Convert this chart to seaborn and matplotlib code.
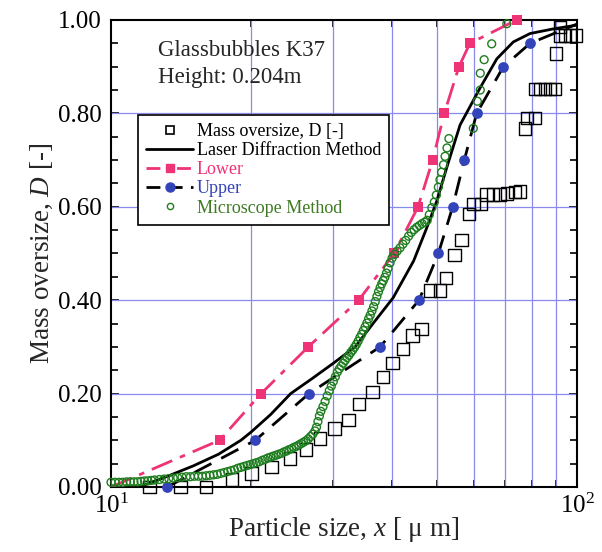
import matplotlib
matplotlib.use("Agg")
import matplotlib.pyplot as plt
from matplotlib.lines import Line2D
from matplotlib.ticker import LogLocator, NullFormatter, MultipleLocator, FormatStrFormatter
import seaborn as sns

# mass oversize (open squares)
mass_x = [12.1, 14.1, 16.0, 18.2, 20.0, 22.1, 24.2, 26.2, 28.1, 30.2, 32.3, 34.1,
          36.4, 38.3, 40.2, 42.3, 44.4, 46.4, 48.4, 50.8, 52.4, 54.6, 56.5, 58.7,
          60.0, 62.2, 64.0, 66.1, 68.4, 70.7, 73.6, 75.4, 77.4, 78.1, 81.3, 81.3,
          83.3, 85.4, 87.5, 89.7, 90.2, 91.9, 94.3, 96.6, 99.5, 92.0]
mass_d = [0.0, 0.0, 0.0, 0.016, 0.029, 0.043, 0.061, 0.080, 0.104, 0.125, 0.144, 0.178,
          0.203, 0.235, 0.265, 0.296, 0.324, 0.338, 0.421, 0.421, 0.448, 0.497, 0.529, 0.585,
          0.606, 0.606, 0.626, 0.626, 0.626, 0.628, 0.632, 0.633, 0.768, 0.790, 0.790, 0.852,
          0.852, 0.852, 0.852, 0.852, 0.928, 0.967, 0.967, 0.967, 0.967, 0.985]

# laser diffraction method (solid line)
laser_x = [11.5, 13.0, 15.0, 17.0, 19.0, 20.0, 22.0, 24.3, 27.0, 30.0, 33.4, 36.5,
           40.3, 44.6, 47.6, 50.0, 52.5, 56.1, 61.9, 67.3, 73.0, 79.3, 89.0, 100.0]
laser_d = [0.0, 0.02, 0.045, 0.07, 0.10, 0.118, 0.155, 0.20, 0.232, 0.265, 0.30, 0.35,
           0.405, 0.484, 0.555, 0.612, 0.683, 0.775, 0.854, 0.917, 0.953, 0.971, 0.981, 0.989]

# lower limit (pink squares, dash-dot); first point has no marker
lower_x = [10.0, 17.1, 21.0, 26.5, 34.0, 40.5, 45.6, 49.0, 51.9, 55.8, 58.9, 74.2]
lower_d = [0.0, 0.10, 0.20, 0.30, 0.40, 0.50, 0.60, 0.70, 0.80, 0.90, 0.95, 1.00]

# upper limit (blue circles, dashed); last point lies past the axis
upper_x = [13.2, 20.4, 26.6, 37.8, 45.8, 50.4, 54.1, 57.3, 60.9, 69.5, 79.3, 105.0]
upper_d = [0.0, 0.10, 0.20, 0.30, 0.40, 0.50, 0.60, 0.70, 0.80, 0.90, 0.95, 1.00]

# microscope method (open green circles)
micro_x = [10.0, 10.2, 10.4, 10.6, 10.8, 11.0, 11.2, 11.4, 11.6, 11.8, 12.0, 12.2,
           12.4, 12.7, 13.0, 13.3, 13.6, 13.9, 14.2, 14.5, 14.8, 15.1, 15.4, 15.7,
           16.0, 16.3, 16.6, 16.9, 17.2, 17.5, 17.8, 18.1, 18.4, 18.7, 19.0, 19.3,
           19.6, 19.9, 20.2, 20.5, 20.8, 21.1, 21.4, 21.7, 22.0, 22.3, 22.6, 22.9,
           23.2, 23.5, 23.8, 24.1, 24.4, 24.7, 25.0, 25.3, 25.6, 25.9, 26.2, 26.5,
           26.8, 27.1, 27.4, 27.6, 27.8, 28.0, 28.2, 28.5, 28.8, 29.1, 29.4, 29.7,
           30.0, 30.3, 30.6, 30.9, 31.2, 31.5, 31.8, 32.1, 32.4, 32.7, 33.0, 33.3,
           33.6, 33.9, 34.2, 34.5, 34.8, 35.1, 35.4, 35.7, 36.0, 36.3, 36.6, 36.9,
           37.2, 37.5, 37.8, 38.1, 38.4, 38.7, 39.0, 39.3, 39.7, 40.1, 40.6, 41.1,
           41.7, 42.3, 42.9, 43.5, 44.1, 44.7, 45.3, 45.9, 46.5, 47.1, 47.7, 48.2,
           48.8, 49.4, 49.9, 50.4, 50.8, 51.2, 51.7, 52.1, 52.6, 53.1, 59.9, 61.1,
           62.0, 62.0, 63.2, 65.6, 70.7]
micro_d = [0.010, 0.010, 0.010, 0.010, 0.011, 0.011, 0.011, 0.011, 0.012, 0.013, 0.013, 0.014,
           0.015, 0.016, 0.017, 0.018, 0.019, 0.020, 0.021, 0.022, 0.022, 0.023, 0.023, 0.023,
           0.024, 0.025, 0.026, 0.027, 0.029, 0.031, 0.033, 0.035, 0.037, 0.040, 0.042, 0.044,
           0.046, 0.048, 0.050, 0.052, 0.054, 0.057, 0.059, 0.062, 0.064, 0.066, 0.068, 0.070,
           0.072, 0.075, 0.077, 0.080, 0.082, 0.085, 0.087, 0.090, 0.093, 0.096, 0.099, 0.103,
           0.108, 0.113, 0.120, 0.128, 0.140, 0.152, 0.162, 0.172, 0.183, 0.195, 0.206, 0.216,
           0.226, 0.236, 0.246, 0.253, 0.259, 0.265, 0.271, 0.277, 0.282, 0.288, 0.293, 0.299,
           0.305, 0.312, 0.320, 0.327, 0.335, 0.343, 0.351, 0.360, 0.368, 0.377, 0.386, 0.397,
           0.408, 0.418, 0.427, 0.435, 0.442, 0.449, 0.458, 0.468, 0.480, 0.490, 0.498, 0.505,
           0.512, 0.520, 0.528, 0.537, 0.545, 0.551, 0.556, 0.560, 0.564, 0.567, 0.571, 0.583,
           0.598, 0.610, 0.625, 0.642, 0.658, 0.674, 0.690, 0.708, 0.726, 0.746, 0.768, 0.826,
           0.850, 0.886, 0.915, 0.949, 0.992]

PINK = "#ee3377"
BLUE = "#3344bb"
GREEN = "#1e7d1e"
GRID = "#8a8aee"

sns.set_style("ticks")
plt.rcParams["font.family"] = ["Liberation Serif", "DejaVu Serif"]
plt.rcParams["mathtext.fontset"] = "custom"
plt.rcParams["mathtext.rm"] = "Liberation Serif"
plt.rcParams["mathtext.it"] = "Liberation Serif:italic"

fig, ax = plt.subplots(figsize=(6.02, 5.52), dpi=100)
fig.subplots_adjust(left=0.1844, right=0.9585, top=0.9638, bottom=0.1178)

ax.set_xscale("log")
ax.set_xlim(10, 100)
ax.set_ylim(0, 1.0)

# lines
sns.lineplot(x=laser_x, y=laser_d, ax=ax, color="black", lw=2.0, sort=False,
             estimator=None, zorder=3)
sns.lineplot(x=lower_x, y=lower_d, ax=ax, color=PINK, lw=2.0, sort=False,
             estimator=None, zorder=3)
ax.lines[-1].set_linestyle((0, (8, 3, 2, 3)))
sns.lineplot(x=upper_x, y=upper_d, ax=ax, color="black", lw=2.0, sort=False,
             estimator=None, zorder=3)
ax.lines[-1].set_linestyle((0, (7, 4)))

# markers
sns.scatterplot(x=lower_x[1:], y=lower_d[1:], ax=ax, marker="s", s=50, color=PINK,
                edgecolor=PINK, linewidth=0, zorder=4, clip_on=False)
sns.scatterplot(x=upper_x[:-1], y=upper_d[:-1], ax=ax, marker="o", s=60, color=BLUE,
                edgecolor=BLUE, linewidth=0, zorder=4, clip_on=False)
sns.scatterplot(x=mass_x, y=mass_d, ax=ax, marker="s", s=80, facecolor="none",
                edgecolor="black", linewidth=1.0, zorder=5, clip_on=False)
sns.scatterplot(x=micro_x, y=micro_d, ax=ax, marker="o", s=32, facecolor="none",
                edgecolor=GREEN, linewidth=1.0, zorder=6, clip_on=False)

# grid
ax.grid(False)
for gx in [20, 30, 40, 50, 60, 70, 80, 90]:
    ax.axvline(gx, color=GRID, lw=0.9, zorder=1)
for gy in [0.2, 0.4, 0.6, 0.8]:
    ax.axhline(gy, color=GRID, lw=0.9, zorder=1)

# ticks
ax.xaxis.set_major_locator(LogLocator(base=10))
ax.xaxis.set_minor_locator(LogLocator(base=10, subs=range(2, 10)))
ax.xaxis.set_minor_formatter(NullFormatter())
ax.yaxis.set_major_locator(MultipleLocator(0.2))
ax.yaxis.set_minor_locator(MultipleLocator(0.05))
ax.yaxis.set_major_formatter(FormatStrFormatter("%.2f"))
ax.tick_params(which="both", direction="in", top=True, right=True, width=1.2, colors="black")
ax.tick_params(which="major", length=6, labelsize=18, pad=7)
ax.tick_params(axis="x", which="major", pad=5)
ax.tick_params(which="minor", length=5)
for sp in ax.spines.values():
    sp.set_visible(True)
    sp.set_linewidth(1.5)
    sp.set_color("black")

ax.set_xlabel("Particle size, $x$ [ \u03bc m]", fontsize=19.5, labelpad=-2)
ax.set_ylabel("Mass oversize, $D$ [-]", fontsize=19.5, labelpad=2)

ax.text(0.101, 0.957, "Glassbubbles K37\nHeight: 0.204m", transform=ax.transAxes,
        fontsize=16.5, va="top", ha="left", linespacing=1.35)

handles = [
    Line2D([], [], ls="none", marker="s", ms=6, mfc="none", mec="black", mew=1.2),
    Line2D([], [], color="black", lw=2.0),
    Line2D([], [], color=PINK, lw=2.0, ls=(0, (5, 2, 2, 2)), marker="s", ms=6, mec=PINK),
    Line2D([], [], color="black", lw=2.0, ls=(0, (5, 3)), marker="o", ms=6.5, mfc=BLUE, mec=BLUE),
    Line2D([], [], ls="none", marker="o", ms=4.5, mfc="none", mec=GREEN, mew=1.0),
]
labels = ["Mass oversize, D [-]", "Laser Diffraction Method", "Lower", "Upper",
          "Microscope Method"]
leg = ax.legend(handles, labels, loc="upper left", bbox_to_anchor=(0.058, 0.797),
                borderaxespad=0, fontsize=13, frameon=True, fancybox=False,
                edgecolor="black", framealpha=1, handlelength=2.6, handletextpad=0.2,
                labelspacing=0.12, borderpad=0.45, numpoints=1)
leg.get_frame().set_linewidth(1.2)
leg.set_zorder(10)
for txt, c in zip(leg.get_texts(), ["black", "black", PINK, BLUE, "#3e7a22"]):
    txt.set_color(c)

fig.savefig("out.png", dpi=100)
